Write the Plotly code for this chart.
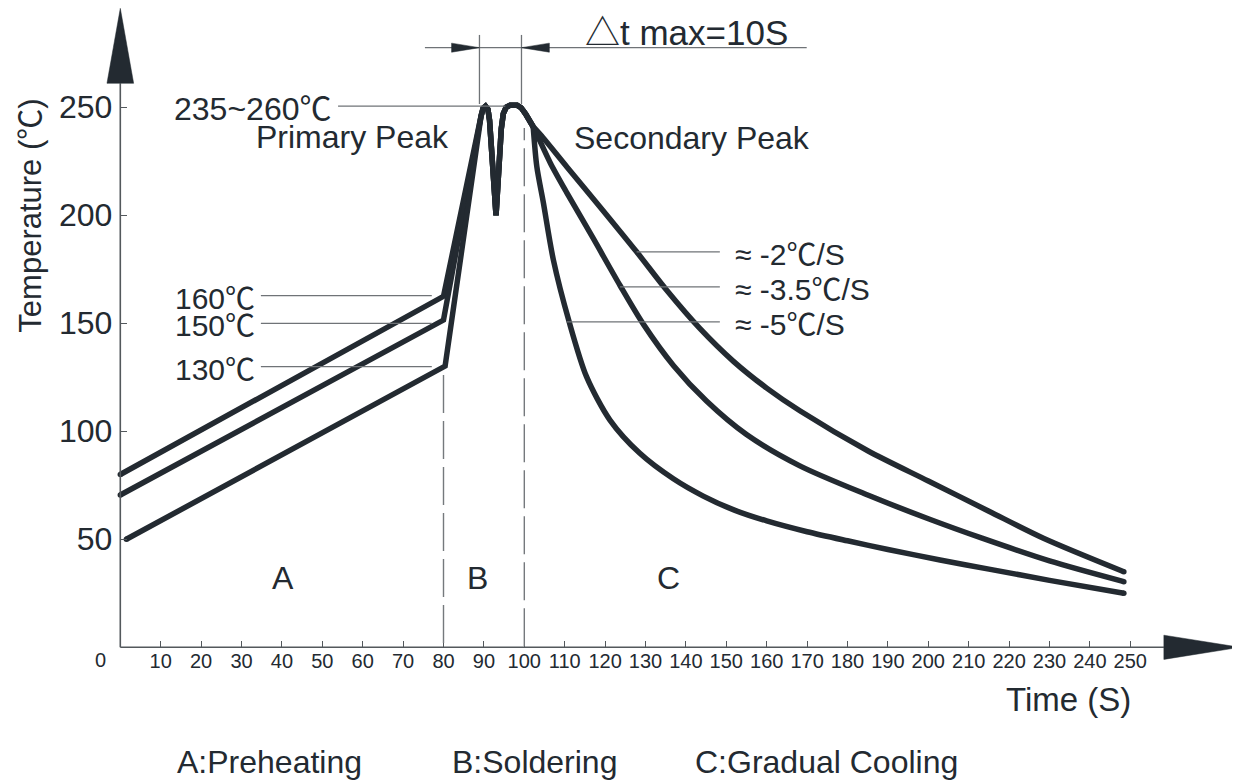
import plotly.graph_objects as go

# ---------------- data (time in s, temperature in degC) ----------------
ramp_hi_t = [0, 80.0]
ramp_hi_T = [80, 162.5]
ramp_mid_t = [0, 80.0]
ramp_mid_T = [70.5, 151.5]
ramp_lo_t = [1.5, 80.4]
ramp_lo_T = [50, 130.2]

# shared double peak (primary + secondary)
peak_t = [89.3, 89.8, 90.4, 91.0, 91.4, 93.0, 94.3, 94.8, 95.5, 96.5, 98.2, 99.2, 100.3, 101.4, 102.2]
peak_T = [246, 249.5, 250.5, 249, 244, 200, 240, 247, 250, 251, 251, 249.8, 247, 244, 241]

# cooling branches
cool_slow_t = [104.6, 110.5, 118.7, 127.8, 135.2, 143.5, 151.7, 160, 168.2, 185, 200, 215, 228.5, 248.4]
cool_slow_T = [236, 222.5, 204, 183.1, 165.4, 147.5, 132.5, 120, 109.5, 91, 77, 63, 50.5, 35]
cool_mid_t = [103.1, 106.5, 110.5, 117, 123.7, 129.5, 136.9, 145.1, 155, 168.2, 185, 200, 213.3, 230, 248.4]
cool_mid_T = [237.5, 224, 210.5, 189.5, 167.5, 149.5, 130.5, 114, 98.5, 84, 70.5, 59.5, 50.5, 40, 30.4]
cool_fast_t = [103.1, 104.7, 107.2, 111.1, 115.4, 121.2, 128.6, 136.9, 144.3, 152, 160, 170, 180, 190, 202.9, 215, 230, 248.4]
cool_fast_T = [222.5, 206, 179.3, 150.7, 125.3, 105.2, 89.8, 78, 70, 63.5, 58.5, 53.5, 49.3, 45.3, 40.4, 36.2, 31, 25]

x_ticks = list(range(10, 260, 10))
y_ticks = [50, 100, 150, 200, 250]

DEG = "<span style=\"font-family:'Noto Sans CJK SC'\">℃</span>"
ramp_labels = ["160" + DEG, "150" + DEG, "130" + DEG]
ramp_label_T = [162.8, 150, 129.9]
slope_labels = ["≈ -2" + DEG + "/S", "≈ -3.5" + DEG + "/S", "≈ -5" + DEG + "/S"]
slope_label_T = [183.1, 166.9, 150.7]
slope_leader_start = [127.8, 123.7, 110.5]
zone_labels = ["A", "B", "C"]
zone_x = [40.3, 88.5, 135.6]
legend_texts = ["A:Preheating", "B:Soldering", "C:Gradual Cooling"]
legend_x = [13.6, 81.6, 141.8]

# ---------------- styling ----------------
INK = "#232a31"
THIN = "#6f7377"
AX = "#53585c"
FONT = "Liberation Sans, Arial, Noto Sans CJK SC, sans-serif"
LW = 5.5
FS = 32

# view ranges chosen so that the whole canvas is the plot area
XR = [-27.797, 277.15]
YR = [-61.44, 295.97]

fig = go.Figure()

ramps = [(ramp_hi_t, ramp_hi_T), (ramp_mid_t, ramp_mid_T), (ramp_lo_t, ramp_lo_T)]
cools = [(cool_slow_t, cool_slow_T), (cool_mid_t, cool_mid_T), (cool_fast_t, cool_fast_T)]

for (rt, rT), (ct, cT) in zip(ramps, cools):
    fig.add_trace(go.Scatter(x=rt + peak_t, y=rT + peak_T, mode="lines",
                             line=dict(color=INK, width=LW), hoverinfo="skip", showlegend=False))
    fig.add_trace(go.Scatter(x=[peak_t[-1]] + ct, y=[peak_T[-1]] + cT, mode="lines",
                             line=dict(color=INK, width=LW, shape="spline", smoothing=0.8),
                             hoverinfo="skip", showlegend=False))
    # round end caps
    fig.add_trace(go.Scatter(x=[rt[0], ct[-1]], y=[rT[0], cT[-1]], mode="markers",
                             marker=dict(color=INK, size=LW, line=dict(width=0)),
                             hoverinfo="skip", showlegend=False))

shapes = []
# axes lines
shapes.append(dict(type="line", xref="x", yref="y", x0=0, x1=258.3, y0=0, y1=0,
                   line=dict(color=AX, width=1.6)))
shapes.append(dict(type="line", xref="x", yref="y", x0=0, x1=0, y0=0, y1=261.1,
                   line=dict(color=AX, width=1.6)))
# axis arrows
shapes.append(dict(type="path", xref="x", yref="y",
                   path="M 258.3 -5.6 L 277.15 0 L 258.3 5.6 Z",
                   fillcolor=INK, line=dict(color=INK, width=0.5)))
shapes.append(dict(type="path", xref="x", yref="y",
                   path="M -3.3 261.1 L 0 295.8 L 3.3 261.1 Z",
                   fillcolor=INK, line=dict(color=INK, width=0.5)))

# dashed zone boundaries
shapes.append(dict(type="line", xref="x", yref="y", x0=80, x1=80, y0=2, y1=128.4,
                   line=dict(color="#75797d", width=1.4, dash="38px,8px")))
shapes.append(dict(type="line", xref="x", yref="y", x0=100, x1=100, y0=0.5, y1=240.4,
                   line=dict(color="#75797d", width=1.4, dash="38px,8px")))

# peak temperature leader
shapes.append(dict(type="line", xref="x", yref="y", x0=53.9, x1=95.3, y0=250.5, y1=250.5,
                   line=dict(color=THIN, width=1.3)))
# delta-t dimension
shapes.append(dict(type="line", xref="x", yref="y", x0=88.9, x1=88.9, y0=251.5, y1=283.5,
                   line=dict(color=THIN, width=1.3)))
shapes.append(dict(type="line", xref="x", yref="y", x0=99.3, x1=99.3, y0=251.5, y1=283.5,
                   line=dict(color=THIN, width=1.3)))
shapes.append(dict(type="line", xref="x", yref="y", x0=75.4, x1=169.9, y0=277.6, y1=277.6,
                   line=dict(color=THIN, width=1.3)))
shapes.append(dict(type="path", xref="x", yref="y",
                   path="M 82.0 275.5 L 88.9 277.6 L 82.0 279.7 Z",
                   fillcolor=INK, line=dict(color=INK, width=0.5)))
shapes.append(dict(type="path", xref="x", yref="y",
                   path="M 106.2 275.5 L 99.3 277.6 L 106.2 279.7 Z",
                   fillcolor=INK, line=dict(color=INK, width=0.5)))

# ramp leaders
for T in ramp_label_T:
    shapes.append(dict(type="line", xref="x", yref="y", x0=34.8, x1=77.1, y0=T, y1=T,
                       line=dict(color=THIN, width=1.3)))
# slope leaders
for T, xs in zip(slope_label_T, slope_leader_start):
    shapes.append(dict(type="line", xref="x", yref="y", x0=xs, x1=148.4, y0=T, y1=T,
                       line=dict(color=THIN, width=1.3)))

ann = []
def txt(x, y, s, size=FS, xanchor="left", yanchor="middle", angle=0):
    ann.append(dict(x=x, y=y, xref="x", yref="y", text=s, showarrow=False,
                    xanchor=xanchor, yanchor=yanchor, textangle=angle,
                    font=dict(family=FONT, size=size, color=INK)))

txt(52.7, 250.6, "235~260" + DEG, xanchor="right")
txt(81.9, 236.2, "Primary Peak", xanchor="right")
txt(111.7, 235.8, "Secondary Peak")
txt(114.5, 286.0, "<span style=\"font-family:'Noto Sans CJK SC'\">△</span>t max=10S", size=35)
for s, T in zip(ramp_labels, ramp_label_T):
    txt(33.8, T, s, size=30, xanchor="right")
for s, T in zip(slope_labels, slope_label_T):
    txt(151.7, T, s, size=30)
for s, xz in zip(zone_labels, zone_x):
    txt(xz, 32, s, xanchor="center")
for s, xl in zip(legend_texts, legend_x):
    txt(xl, -53.1, s)
txt(234.8, -24.4, "Time (S)", size=33, xanchor="center")
txt(-23.0, 200, "Temperature (" + DEG + ")", size=31, xanchor="center", angle=-90)
txt(-5.0, -5.9, "0", size=20, xanchor="center")

fig.update_layout(
    width=1232, height=772,
    margin=dict(l=0, r=0, t=0, b=0),
    paper_bgcolor="white", plot_bgcolor="white",
    shapes=shapes, annotations=ann,
    xaxis=dict(range=XR, showgrid=False, zeroline=False, showline=False,
               anchor="free", position=61.44 / (61.44 + 295.97),
               tickmode="array", tickvals=x_ticks, ticktext=[str(v) for v in x_ticks],
               ticks="inside", ticklen=6, tickwidth=1.3, tickcolor=AX,
               tickfont=dict(family=FONT, size=20, color=INK), fixedrange=True),
    yaxis=dict(range=YR, showgrid=False, zeroline=False, showline=False,
               anchor="free", position=27.797 / (27.797 + 277.15),
               tickmode="array", tickvals=y_ticks, ticktext=[str(v) for v in y_ticks],
               ticks="inside", ticklen=6, tickwidth=1.3, tickcolor=AX,
               ticklabelstandoff=8,
               tickfont=dict(family=FONT, size=FS, color=INK), fixedrange=True),
)

fig.write_html("out.html")
